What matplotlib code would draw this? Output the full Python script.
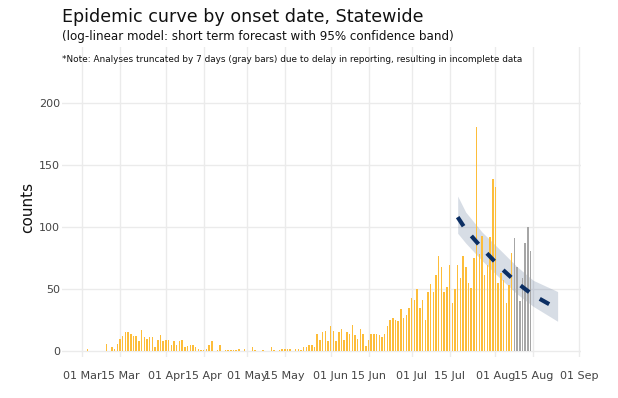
import matplotlib
matplotlib.use("Agg")
import matplotlib.pyplot as plt
import matplotlib.dates as mdates
import numpy as np
import pandas as pd

# daily case counts by onset date, starting 01 Mar
start_date = "2020-03-01"
obs_counts = [
    0, 0, 2, 0, 0, 0, 0, 0, 0, 6,
    0, 3, 2, 6, 10, 12, 15, 15, 14, 12,
    12, 8, 17, 11, 10, 11, 11, 3, 9, 13,
    8, 9, 9, 5, 8, 5, 8, 9, 3, 4,
    5, 5, 3, 2, 1, 1, 2, 5, 8, 0,
    1, 5, 0, 1, 1, 1, 1, 1, 2, 0,
    2, 0, 0, 3, 1, 0, 0, 1, 0, 0,
    3, 1, 0, 1, 2, 2, 2, 2, 0, 2,
    2, 1, 3, 3, 5, 5, 3, 14, 9, 15,
    16, 8, 20, 16, 8, 15, 18, 9, 15, 14,
    21, 13, 10, 18, 14, 4, 9, 14, 14, 14,
    13, 11, 14, 20, 25, 27, 25, 24, 34, 27,
    29, 35, 43, 41, 50, 35, 41, 25, 48, 54,
    48, 61, 77, 68, 48, 52, 69, 39, 50, 69,
    59, 77, 68, 55, 51, 75, 181, 78, 93, 61,
    69, 92, 139, 132, 55, 63, 57, 39, 53, 79,
]
# last 7 days, truncated (gray)
trunc_counts = [91, 68, 40, 59, 87, 100, 81]

# log-linear forecast with 95% band
fc_dates = ["2020-07-18", "2020-07-21", "2020-07-27", "2020-08-03",
            "2020-08-09", "2020-08-15", "2020-08-24"]
fc_fit = [108, 98, 83, 67, 55, 45, 34]
fc_upper = [125, 112, 96, 81, 68, 57, 48]
fc_lower = [95, 87, 73, 58, 46, 36, 24]

W, H = 618, 398
fig = plt.figure(figsize=(W/100, H/100), dpi=100)
ax = fig.add_axes([62/W, 1-357/H, (581-62)/W, (357-47)/H])

obs_dates = pd.date_range(start_date, periods=len(obs_counts), freq="D")
trunc_dates = pd.date_range(obs_dates[-1] + pd.Timedelta(days=1),
                            periods=len(trunc_counts), freq="D")
fdates = pd.to_datetime(fc_dates)

ax.fill_between(fdates, fc_lower, fc_upper, color="#0B2E63", alpha=0.16,
                linewidth=0, zorder=1)
ax.bar(obs_dates, obs_counts, width=0.55, color="#FDBD3A", linewidth=0,
       zorder=2)
ax.bar(trunc_dates, trunc_counts, width=0.55, color="#A6A6A6", linewidth=0,
       zorder=2)
ax.plot(fdates, fc_fit, color="#0B2E63", lw=3, linestyle=(0, (2.6, 3)),
        dash_capstyle="butt", zorder=3)

t0 = pd.Timestamp(start_date)
ax.set_xlim(t0 - pd.Timedelta(days=7.48), t0 + pd.Timedelta(days=184.66))
ax.set_ylim(-4.8, 245.2)
ax.set_yticks([0, 50, 100, 150, 200])
ax.xaxis.set_major_locator(mdates.DayLocator(bymonthday=[1, 15]))
ax.xaxis.set_major_formatter(mdates.DateFormatter("%d %b"))

ax.grid(True, color="#EBEBEB", lw=1)
ax.set_axisbelow(True)
for s in ax.spines.values():
    s.set_visible(False)
ax.tick_params(axis="x", length=0, pad=10, labelsize=8, labelcolor="#444444")
ax.tick_params(axis="y", length=0, pad=1.5, labelsize=8, labelcolor="#444444")

fig.text(62/W, 1-22/H, "Epidemic curve by onset date, Statewide",
         fontsize=12.6, va="baseline", ha="left", color="#111111")
fig.text(62/W, 1-40/H,
         "(log-linear model: short term forecast with 95% confidence band)",
         fontsize=8.55, va="baseline", ha="left", color="#111111")
fig.text(62/W, 1-62/H,
         "*Note: Analyses truncated by 7 days (gray bars) due to delay in "
         "reporting, resulting in incomplete data",
         fontsize=6.4, va="baseline", ha="left", color="#111111")
fig.text(27.5/W, 1-207/H, "counts", rotation=90, fontsize=11,
         va="center", ha="center", color="#111111")

fig.savefig("out.png", dpi=100)
